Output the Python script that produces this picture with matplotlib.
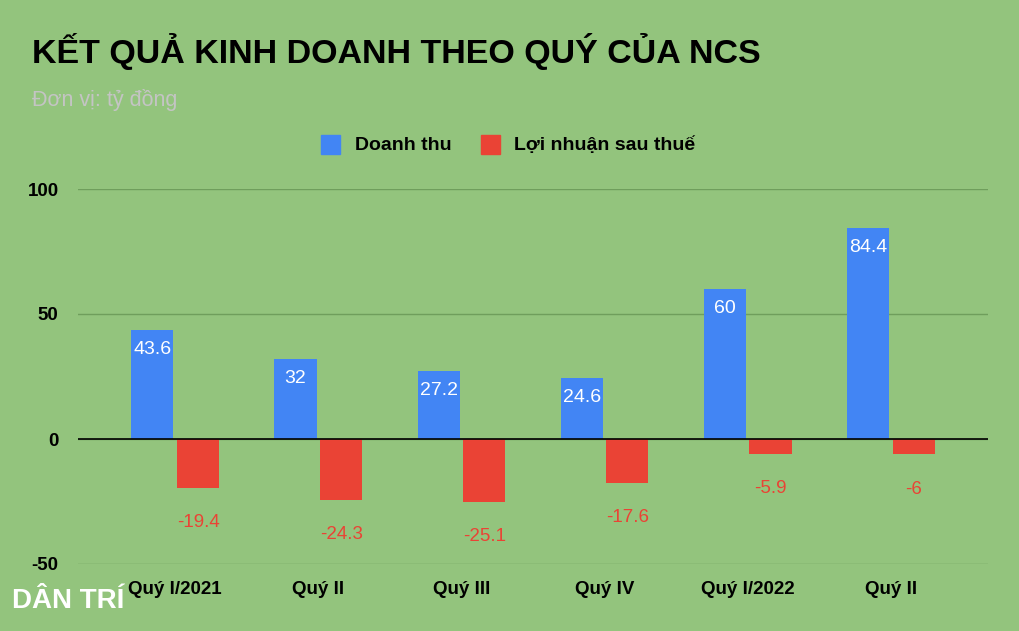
import matplotlib
matplotlib.use("Agg")
import matplotlib.pyplot as plt
import numpy as np

categories = ["Quý I/2021", "Quý II", "Quý III", "Quý IV", "Quý I/2022", "Quý II"]
revenue = [43.6, 32, 27.2, 24.6, 60, 84.4]
profit = [-19.4, -24.3, -25.1, -17.6, -5.9, -6]
rev_labels = ["43.6", "32", "27.2", "24.6", "60", "84.4"]
prof_labels = ["-19.4", "-24.3", "-25.1", "-17.6", "-5.9", "-6"]

bg = "#93c47d"
blue = "#4285f4"
red = "#ea4335"
plt.rcParams['font.family'] = ['Liberation Sans', 'DejaVu Sans']
plt.rcParams['axes.unicode_minus'] = False

fig = plt.figure(figsize=(10.2, 6.31), dpi=100, facecolor=bg)
ax = fig.add_axes([78/1020, 67/631, 910/1020, 375/631], facecolor=bg)
x = np.arange(len(categories))
w = 0.294
off = 0.16
ax.bar(x - off, revenue, w, color=blue, zorder=3)
ax.bar(x + off, profit, w, color=red, zorder=3)
for i in range(len(x)):
    ax.text(x[i] - off, revenue[i] - 4.5, rev_labels[i], ha="center", va="top",
            color="white", fontsize=14, zorder=4)
    ax.text(x[i] + off, profit[i] - 14, prof_labels[i], ha="center", va="center",
            color=red, fontsize=13.5, zorder=4)
ax.set_xlim(-0.68, 5.68)
ax.set_ylim(-50, 100)
ax.set_yticks([-50, 0, 50, 100])
ax.grid(axis="y", color="#6f9e5c", linewidth=1, zorder=0)
ax.axhline(0, color="black", linewidth=1.2, zorder=5)
for s in ax.spines.values():
    s.set_visible(False)
ax.tick_params(length=0, labelsize=13.5, colors="black")
ax.tick_params(axis="y", pad=14)
ax.set_xticks(x)
ax.set_xticklabels(categories, fontweight="bold", fontsize=13.5)
ax.tick_params(axis="x", pad=12)
for t in ax.get_yticklabels():
    t.set_fontweight("bold")

fig.text(32/1020, 1 - 52/631, "KẾT QUẢ KINH DOANH THEO QUÝ CỦA NCS", fontsize=24.5,
         fontweight="bold", va="center", ha="left")
fig.text(32/1020, 1 - 100/631, "Đơn vị: tỷ đồng", fontsize=15.5, color="#c4c4c4",
         va="center", ha="left")
fig.patches.append(matplotlib.patches.Rectangle((321/1020, 1 - 154/631), 19/1020, 19/631,
                   transform=fig.transFigure, color=blue))
fig.text(355/1020, 1 - 145/631, "Doanh thu", fontsize=14, fontweight="bold", va="center")
fig.patches.append(matplotlib.patches.Rectangle((481/1020, 1 - 154/631), 19/1020, 19/631,
                   transform=fig.transFigure, color=red))
fig.text(514/1020, 1 - 145/631, "Lợi nhuận sau thuế", fontsize=14, fontweight="bold", va="center")
fig.text(12/1020, 1 - 601/631, "DÂN TRÍ", fontsize=20, fontweight="bold", color="white",
         va="center", ha="left")
fig.savefig("out.png", dpi=100, facecolor=bg)
